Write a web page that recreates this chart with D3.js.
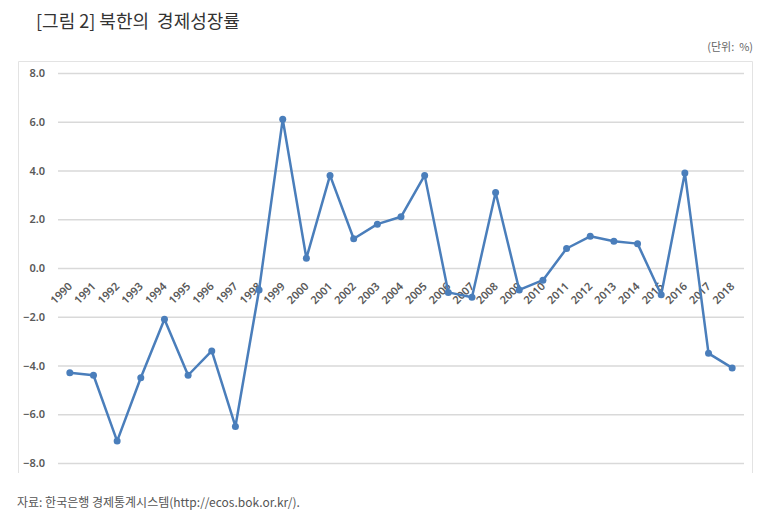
<!DOCTYPE html>
<html>
<head>
<meta charset="utf-8">
<script src="https://cdn.jsdelivr.net/npm/d3@7"></script>
<style>
  body { margin: 0; background: #fff; }
  svg { display: block; font-family: "Noto Sans CJK KR", "Noto Sans", sans-serif; }
</style>
</head>
<body>
<svg id="chart" width="781" height="532"></svg>
<script>
// 북한 경제성장률 (%), 한국은행
const years = ['1990', '1991', '1992', '1993', '1994', '1995', '1996', '1997', '1998', '1999',
  '2000', '2001', '2002', '2003', '2004', '2005', '2006', '2007', '2008', '2009',
  '2010', '2011', '2012', '2013', '2014', '2015', '2016', '2017', '2018'];
const growth = [-4.3, -4.4, -7.1, -4.5, -2.1, -4.4, -3.4, -6.5, -0.9, 6.1,
  0.4, 3.8, 1.2, 1.8, 2.1, 3.8, -1.0, -1.2, 3.1, -0.9,
  -0.5, 0.8, 1.3, 1.1, 1.0, -1.1, 3.9, -3.5, -4.1];
const yTicks = [-8, -6, -4, -2, 0, 2, 4, 6, 8];

const svg = d3.select('#chart');

// title, unit, source
svg.append('text').attr('x', 36).attr('y', 28)
  .attr('font-size', 18).attr('fill', '#333')
  .attr('xml:space', 'preserve')
  .text('[그림 2] 북한의  경제성장률');
svg.append('text').attr('x', 753).attr('y', 51)
  .attr('text-anchor', 'end').attr('font-size', 11).attr('fill', '#666')
  .attr('xml:space', 'preserve')
  .text('(단위:  %)');
svg.append('text').attr('x', 17).attr('y', 507)
  .attr('font-size', 12).attr('fill', '#555')
  .text('자료: 한국은행 경제통계시스템(http://ecos.bok.or.kr/).');

// chart frame (bottom edge cut off in the original)
svg.append('path')
  .attr('d', 'M18.5,473V61.5H752.5V473')
  .attr('fill', 'none').attr('stroke', '#e3e3e3');

const x = d3.scaleBand().domain(years).range([58, 744]);
const y = d3.scaleLinear().domain([-8, 8]).range([463, 73]);

// horizontal gridlines + y labels
const yAxis = svg.append('g').attr('transform', 'translate(58,0)')
  .call(d3.axisLeft(y).tickValues(yTicks).tickFormat(d3.format('.1f'))
    .tickSize(-686).tickPadding(13));
yAxis.select('.domain').remove();
yAxis.selectAll('line').attr('stroke', '#d9d9d9').attr('stroke-width', 1.5);
yAxis.selectAll('text')
  .attr('font-family', '"Noto Sans", sans-serif')
  .attr('font-weight', 600).attr('font-size', 11).attr('fill', '#595959');

// category axis at zero with rotated labels
const xAxis = svg.append('g').attr('transform', `translate(0,${y(0)})`)
  .call(d3.axisBottom(x).tickSize(0));
xAxis.select('.domain').remove();
xAxis.selectAll('text')
  .attr('font-family', '"Noto Sans", sans-serif')
  .attr('font-weight', 600).attr('font-size', 11).attr('fill', '#595959')
  .attr('text-anchor', 'end')
  .attr('dy', null).attr('y', 0)
  .attr('transform', 'translate(3,19) rotate(-45)');

const pts = years.map((yr, i) => [x(yr) + x.bandwidth() / 2, y(growth[i])]);

svg.append('path')
  .attr('d', d3.line()(pts))
  .attr('fill', 'none').attr('stroke', '#4a7ebb')
  .attr('stroke-width', 2.5).attr('stroke-linejoin', 'round');

svg.append('g').selectAll('circle')
  .data(pts).enter().append('circle')
  .attr('cx', d => d[0]).attr('cy', d => d[1])
  .attr('r', 3.5).attr('fill', '#4a7ebb');
</script>
</body>
</html>
